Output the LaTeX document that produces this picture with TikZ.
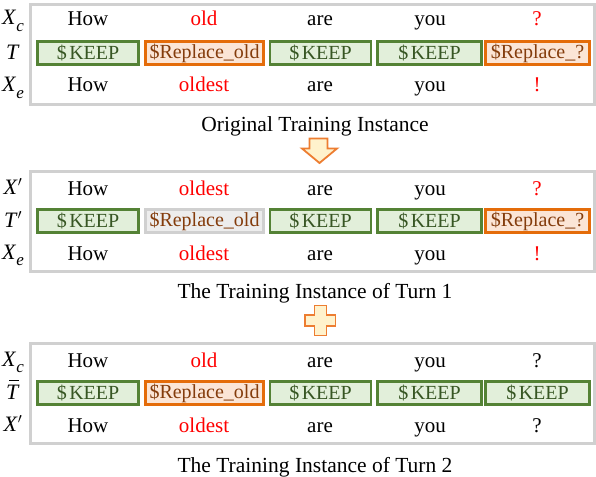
\documentclass[tikz,border=0pt]{standalone}
\usepackage{fontspec}
\setmainfont{Liberation Serif}
\definecolor{kfill}{HTML}{E2EFDA}
\definecolor{kdraw}{HTML}{548235}
\definecolor{ktext}{HTML}{375623}
\definecolor{rfill}{HTML}{FBE5D6}
\definecolor{rdraw}{HTML}{E46C0A}
\definecolor{rtext}{HTML}{843C0C}
\definecolor{gfill}{HTML}{EDEDED}
\definecolor{gdraw}{HTML}{D0D0D0}
\definecolor{pborder}{HTML}{D0D0D0}
\definecolor{afill}{HTML}{FFF2CC}
\definecolor{adraw}{HTML}{ED7D31}
\newcommand{\subsc}[1]{\raisebox{-0.28em}{\fontsize{17}{17}\selectfont\textit{#1}}}
\newcommand{\keeptxt}{\$\kern2.5pt KEEP}
\begin{document}
\begin{tikzpicture}[x=1pt,y=-1pt,
  wrd/.style={font=\fontsize{21}{24}\selectfont, inner sep=0pt, anchor=base},
  redw/.style={wrd, text=red},
  lbl/.style={font=\fontsize{22}{24}\selectfont, inner sep=0pt, anchor=base},
  captext/.style={font=\fontsize{21.5}{24}\selectfont, inner sep=0pt, anchor=base},
  panel/.style={draw=pborder, line width=3pt, fill=white},
  tagbox/.style={font=\fontsize{20}{22}\selectfont, inner sep=0pt, minimum height=23pt, line width=2.5pt},
  keepbox/.style={tagbox, draw=kdraw, fill=kfill, text=ktext, minimum width=101pt},
  replbox/.style={tagbox, draw=rdraw, fill=rfill, text=rtext},
  graybox/.style={tagbox, draw=gdraw, fill=gfill, text=rtext},
  bigarrow/.style={draw=adraw, fill=afill, line width=1.8pt, line join=miter}
]
\useasboundingbox (0,0) rectangle (596,476);
\fill[white] (0,0) rectangle (596,476);

% ---------- Panel 1 ----------
\draw[panel] (30,4.5) rectangle (594,104.5);
\node[lbl] (l1a) at (13,25) {\textit{X}\subsc{c}};
\node[lbl] (l1b) at (13,60) {\textit{T}};
\node[lbl] (l1c) at (13,92) {\textit{X}\subsc{e}};

\node[wrd]  (w11) at (88,26) {How};
\node[redw] (w12) at (204,26) {old};
\node[wrd]  (w13) at (320,26) {are};
\node[wrd]  (w14) at (430,26) {you};
\node[redw] (w15) at (537,26) {?};

\node[keepbox] (t11) at (88,53) {\keeptxt};
\node[replbox, minimum width=118pt] (t12) at (204.5,53) {\$Replace\_old};
\node[keepbox] (t13) at (320.5,53) {\keeptxt};
\node[keepbox, minimum width=104pt] (t14) at (429.5,53) {\keeptxt};
\node[replbox, minimum width=104pt] (t15) at (537.5,53) {\$Replace\_?};

\node[wrd]  (e11) at (88,92) {How};
\node[redw] (e12) at (204,92) {oldest};
\node[wrd]  (e13) at (320,92) {are};
\node[wrd]  (e14) at (430,92) {you};
\node[redw] (e15) at (537,92) {!};

\node[captext] (c1) at (315,131) {Original Training Instance};

% down arrow
\draw[bigarrow] (309.5,138.5) -- (327.5,138.5) -- (327.5,148.5) -- (337,148.5) -- (319.5,163) -- (302,148.5) -- (309.5,148.5) -- cycle;

% ---------- Panel 2 ----------
\draw[panel] (30,171.5) rectangle (594,271.5);
\node[lbl] (l2a) at (13,194) {\textit{X}$'$};
\node[lbl] (l2b) at (13,227) {\textit{T}$'$};
\node[lbl] (l2c) at (13,259) {\textit{X}\subsc{e}};

\node[wrd]  (w21) at (88,195) {How};
\node[redw] (w22) at (204,195) {oldest};
\node[wrd]  (w23) at (320,195) {are};
\node[wrd]  (w24) at (430,195) {you};
\node[redw] (w25) at (537,195) {?};

\node[keepbox] (t21) at (88,221) {\keeptxt};
\node[graybox, minimum width=118pt] (t22) at (204.5,221) {\$Replace\_old};
\node[keepbox] (t23) at (320.5,221) {\keeptxt};
\node[keepbox, minimum width=104pt] (t24) at (429.5,221) {\keeptxt};
\node[replbox, minimum width=104pt] (t25) at (537.5,221) {\$Replace\_?};

\node[wrd]  (e21) at (88,260) {How};
\node[redw] (e22) at (204,260) {oldest};
\node[wrd]  (e23) at (320,260) {are};
\node[wrd]  (e24) at (430,260) {you};
\node[redw] (e25) at (537,260) {!};

\node[captext] (c2) at (315,298) {The Training Instance of Turn 1};

% cross
\draw[bigarrow] (314.5,305.5) -- (326.5,305.5) -- (326.5,315) -- (335.5,315) -- (335.5,326) -- (326.5,326) -- (326.5,335.5) -- (314.5,335.5) -- (314.5,326) -- (305,326) -- (305,315) -- (314.5,315) -- cycle;

% ---------- Panel 3 ----------
\draw[panel] (30,343.5) rectangle (594,443.5);
\node[lbl] (l3a) at (13,366) {\textit{X}\subsc{c}};
\node[lbl] (l3b) at (13,399) {\textit{T}};
\draw[line width=1.1pt] ([xshift=-4pt,yshift=3.5pt]l3b.north) -- ([xshift=6pt,yshift=3.5pt]l3b.north);
\node[lbl] (l3c) at (13,431) {\textit{X}$'$};

\node[wrd]  (w31) at (88,367) {How};
\node[redw] (w32) at (204,367) {old};
\node[wrd]  (w33) at (320,367) {are};
\node[wrd]  (w34) at (430,367) {you};
\node[wrd]  (w35) at (537,367) {?};

\node[keepbox] (t31) at (88,393) {\keeptxt};
\node[replbox, minimum width=118pt] (t32) at (204.5,393) {\$Replace\_old};
\node[keepbox] (t33) at (320.5,393) {\keeptxt};
\node[keepbox, minimum width=104pt] (t34) at (429.5,393) {\keeptxt};
\node[keepbox, minimum width=104pt] (t35) at (537.5,393) {\keeptxt};

\node[wrd]  (e31) at (88,432) {How};
\node[redw] (e32) at (204,432) {oldest};
\node[wrd]  (e33) at (320,432) {are};
\node[wrd]  (e34) at (430,432) {you};
\node[wrd]  (e35) at (537,432) {?};

\node[captext] (c3) at (315,472) {The Training Instance of Turn 2};
\end{tikzpicture}
\end{document}
